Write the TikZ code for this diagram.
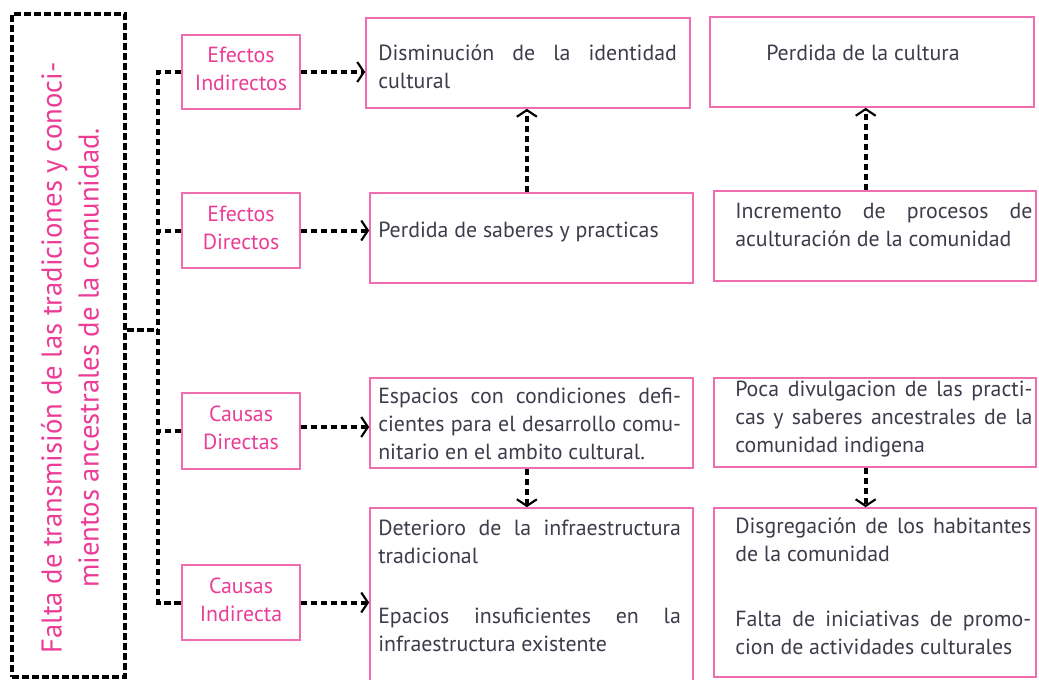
\documentclass[tikz,border=0pt]{standalone}
\usepackage{fontspec}
\setmainfont{PT Sans}
\usetikzlibrary{arrows.meta,fit}
\definecolor{pinkLine}{RGB}{240,110,175}
\definecolor{pinkText}{RGB}{236,60,150}
\definecolor{grayText}{RGB}{60,60,75}
\newcommand{\jline}[2]{\makebox[#1][s]{#2}}

\begin{document}
\begin{tikzpicture}
[x=0.75pt,y=-0.75pt,
  boxDecorate/.style={draw=pinkLine,line width=1.2pt,inner sep=0pt},
  labelDecorate/.style={align=center,text=pinkText,inner sep=0pt,
    font=\fontsize{16.4}{21}\selectfont},
  textDecorate/.style={anchor=base west,text=grayText,inner sep=0pt,align=left,
    font=\fontsize{16.4}{20.8}\selectfont},
  lineDecorate/.style={line width=3pt,dash pattern=on 5pt off 2.5pt},
  arrowDecorate/.style={lineDecorate,-{Straight Barb[length=5pt,width=15pt,line width=1.6pt]}}]
\useasboundingbox (0,0) rectangle (1039,679);
%% main problem
\node (main) [draw,lineDecorate,inner sep=0pt,fit={(12,14) (125,677)}] {};
\node (title) at (70,358) [rotate=90,text=pinkText,align=center,
  font=\fontsize{21.5}{27.75}\selectfont]
  {Falta de transmisión de las tradiciones y conoci-\\mientos ancestrales de la comunidad.};
%% effects and causes
\foreach \nodename/\ytop/\ybot/\first/\second in {
  ei/35/109/Efectos/Indirectos, ed/193/268/Efectos/Directos,
  cd/393/469/Causas/Directas, ci/565/640/Causas/Indirecta}
{
  \node (\nodename) [boxDecorate,fit={(182,\ytop) (300,\ybot)}] {};
  \node (\nodename Text) at ([yshift=2.25pt]\nodename.center) [labelDecorate] {\first\\\second};
}
%% content boxes
\foreach \nodename/\xl/\yt/\xr/\yb in {
  dis/366/18/690/108, sab/370/193/693/283, esp/370/378/693/468, det/370/508/693/700,
  cul/710/17/1034/107, inc/714/191/1036/281, poc/714/378/1036/467, dsg/714/508/1036/677}
{
  \node (\nodename) [boxDecorate,fit={(\xl,\yt) (\xr,\yb)}] {};
}
%% texts (placed at the baseline of their last line)
\node (disText) at (378,88) [textDecorate]
  {\jline{224pt}{Disminución de la identidad}\\cultural};
\node (culText) at (766,60) [textDecorate] {Perdida de la cultura};
\node (sabText) at (378,237) [textDecorate] {Perdida de saberes y practicas};
\node (incText) at (735,246) [textDecorate]
  {\jline{223pt}{Incremento de procesos de}\\aculturación de la comunidad};
\node (espText) at (378,459) [textDecorate]
  {\jline{227pt}{Espacios con condiciones defi-}\\
   \jline{227pt}{cientes para el desarrollo comu-}\\
   nitario en el ambito cultural.};
\node (pocText) at (735,452) [textDecorate]
  {\jline{223pt}{Poca divulgacion de las practi-}\\
   \jline{223pt}{cas y saberes ancestrales de la}\\
   comunidad indigena};
\node (detText) at (378,563) [textDecorate]
  {\jline{227pt}{Deterioro de la infraestructura}\\tradicional};
\node (epaText) at (378,651) [textDecorate]
  {\jline{227pt}{Epacios insuficientes en la}\\infraestructura existente};
\node (dsgText) at (735,561) [textDecorate]
  {\jline{222pt}{Disgregación de los habitantes}\\de la comunidad};
\node (falText) at (735,654) [textDecorate]
  {\jline{222pt}{Falta de iniciativas de promo-}\\cion de actividades culturales};
%% bracket
\coordinate (hub) at (158,330);
\draw[lineDecorate] (main.east |- hub) -- (hub);
\draw[lineDecorate] (ei.west) -| (hub) |- (ci.west);
\draw[lineDecorate] (ed.west) -- (ed.west -| hub);
\draw[lineDecorate] (cd.west) -- (cd.west -| hub);
%% arrows
\draw[arrowDecorate] (ei.east) -- (ei.east -| dis.west);
\draw[arrowDecorate] (ed.east) -- (ed.east -| sab.west);
\draw[arrowDecorate] ([yshift=3pt]cd.east) -- ([yshift=3pt]cd.east -| esp.west);
\draw[arrowDecorate] (ci.east) -- (ci.east -| det.west);
\draw[arrowDecorate] ([xshift=-3.5pt]sab.north) -- ([xshift=-3.5pt]sab.north |- dis.south);
\draw[arrowDecorate] ([xshift=-7pt]inc.north) -- ([xshift=-7pt]inc.north |- cul.south);
\draw[arrowDecorate] ([xshift=-3.5pt]esp.south) -- ([xshift=-3.5pt]esp.south |- det.north);
\draw[arrowDecorate] ([xshift=-7pt]poc.south) -- ([xshift=-7pt]poc.south |- dsg.north);
\end{tikzpicture}
\end{document}
